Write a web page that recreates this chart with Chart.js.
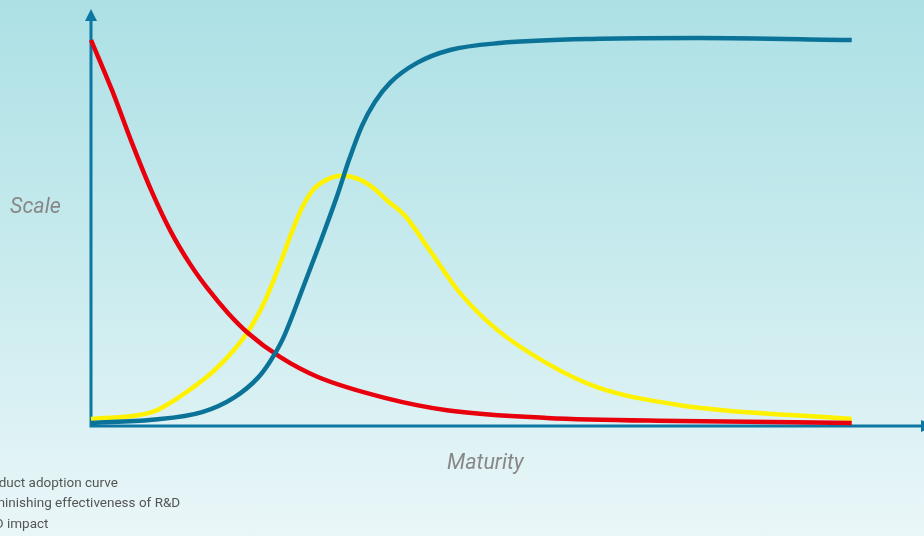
<!DOCTYPE html>
<html>
<head>
<meta charset="utf-8">
<script src="https://cdn.jsdelivr.net/npm/chart.js@4"></script>
<style>
  html, body { margin: 0; padding: 0; overflow: hidden; }
  body {
    width: 924px; height: 536px;
    background: linear-gradient(to bottom, #ace0e5 0%, #c6eaed 45%, #eaf6f8 100%);
    font-family: Roboto, "Noto Sans", sans-serif;
  }
  #wrap { position: relative; width: 924px; height: 536px; }
  canvas { position: absolute; left: 0; top: 0; }
  .axis-title { position: absolute; font-style: italic; font-size: 21.5px; color: #888; line-height: 1; }
  .legend { position: absolute; font-size: 13.5px; color: #555; white-space: nowrap; line-height: 1; }
</style>
</head>
<body>
<div id="wrap">
  <canvas id="chart" width="924" height="536"></canvas>
  <div class="axis-title" style="left:10px; top:195px;">Scale</div>
  <div class="axis-title" style="left:447px; top:451px;">Maturity</div>
  <div class="legend" style="left:-22px; top:476px;">Product adoption curve</div>
  <div class="legend" style="left:-19px; top:496px;">Diminishing effectiveness of R&amp;D</div>
  <div class="legend" style="left:-22px; top:517px;">R&amp;D impact</div>
</div>
<script>
// maturity (x) / scale (y) readings, 0-100 units
const adoptionX = [0, 8, 14.6, 18.9, 21.9, 23.5, 25.2, 27.9, 30.1, 32.3, 34, 35.6, 37.3, 39.3, 42.8, 47.2, 53.7, 66.9, 80, 100];
const adoptionY = [0.8, 1.6, 3.6, 7.5, 12.4, 16.6, 22.5, 36, 47.4, 59.3, 69.4, 77.7, 83.9, 88.9, 94, 97.4, 99.2, 100.3, 100.5, 100];

const effectX = [0, 2.76, 5.39, 8.02, 10.51, 13.01, 15.37, 18, 20.63, 24.84, 29.83, 38.63, 46.78, 59.92, 77.4, 100];
const effectY = [100, 87, 73.3, 60.6, 50.3, 42, 35.5, 29.3, 24.1, 17.9, 12.7, 7.3, 4.1, 2.1, 1.3, 0.8];

const impactX = [0, 8, 12.35, 16.7, 20.5, 22.86, 24.84, 26.41, 27.86, 29.3, 30.9, 33, 35.1, 37.1, 39, 41.3, 44.5, 48.5, 53.4, 59.9, 66.5, 77.4, 100];
const impactY = [1.8, 3.6, 8.5, 15.3, 24.1, 32.4, 42, 50.3, 57, 61.4, 63.7, 64.8, 64, 61.7, 58.3, 54.4, 45.6, 34.5, 24.9, 16.3, 10.1, 5.4, 1.8];

const seriesNames = ['Product adoption curve', 'Diminishing effectiveness of R&D', 'R&D impact'];

const AXIS_COLOR = '#0c77a0';

function toPoints(xs, ys) {
    return xs.map((x, i) => ({ x: x, y: ys[i] }));
}

// hand-drawn style axes with arrow heads
const arrowAxes = {
    id: 'arrowAxes',
    beforeDatasetsDraw(chart) {
        const { ctx, chartArea } = chart;
        const x0 = chartArea.left, y0 = chartArea.bottom;
        ctx.save();
        ctx.strokeStyle = AXIS_COLOR;
        ctx.fillStyle = AXIS_COLOR;
        ctx.lineWidth = 3;
        ctx.beginPath();
        ctx.moveTo(x0, y0);
        ctx.lineTo(x0, 20);
        ctx.moveTo(x0 - 1.5, y0);
        ctx.lineTo(928, y0);
        ctx.stroke();
        // top arrow
        ctx.beginPath();
        ctx.moveTo(x0, 9);
        ctx.lineTo(x0 - 6, 21);
        ctx.lineTo(x0 + 6, 21);
        ctx.closePath();
        ctx.fill();
        // right arrow (mostly off canvas)
        ctx.beginPath();
        ctx.moveTo(936, y0);
        ctx.lineTo(921, y0 - 6);
        ctx.lineTo(921, y0 + 6);
        ctx.closePath();
        ctx.fill();
        ctx.restore();
    }
};

const lineStyle = {
    borderWidth: 4.5,
    pointRadius: 0,
    fill: false,
    cubicInterpolationMode: 'monotone',
    clip: false
};

new Chart(document.getElementById('chart'), {
    type: 'line',
    data: {
        datasets: [
            Object.assign({ label: seriesNames[0], data: toPoints(adoptionX, adoptionY), borderColor: '#0b7398' }, lineStyle),
            Object.assign({ label: seriesNames[1], data: toPoints(effectX, effectY), borderColor: '#e8000c' }, lineStyle),
            Object.assign({ label: seriesNames[2], data: toPoints(impactX, impactY), borderColor: '#fff200' }, lineStyle)
        ]
    },
    options: {
        responsive: false,
        animation: false,
        layout: {
            padding: { left: 91, top: 40, right: 0, bottom: 110 }
        },
        plugins: {
            legend: { display: false },
            tooltip: { enabled: false }
        },
        scales: {
            x: { type: 'linear', min: 0, max: 109.5, display: false },
            y: { type: 'linear', min: 0, max: 100, display: false }
        }
    },
    plugins: [arrowAxes]
});
</script>
</body>
</html>
